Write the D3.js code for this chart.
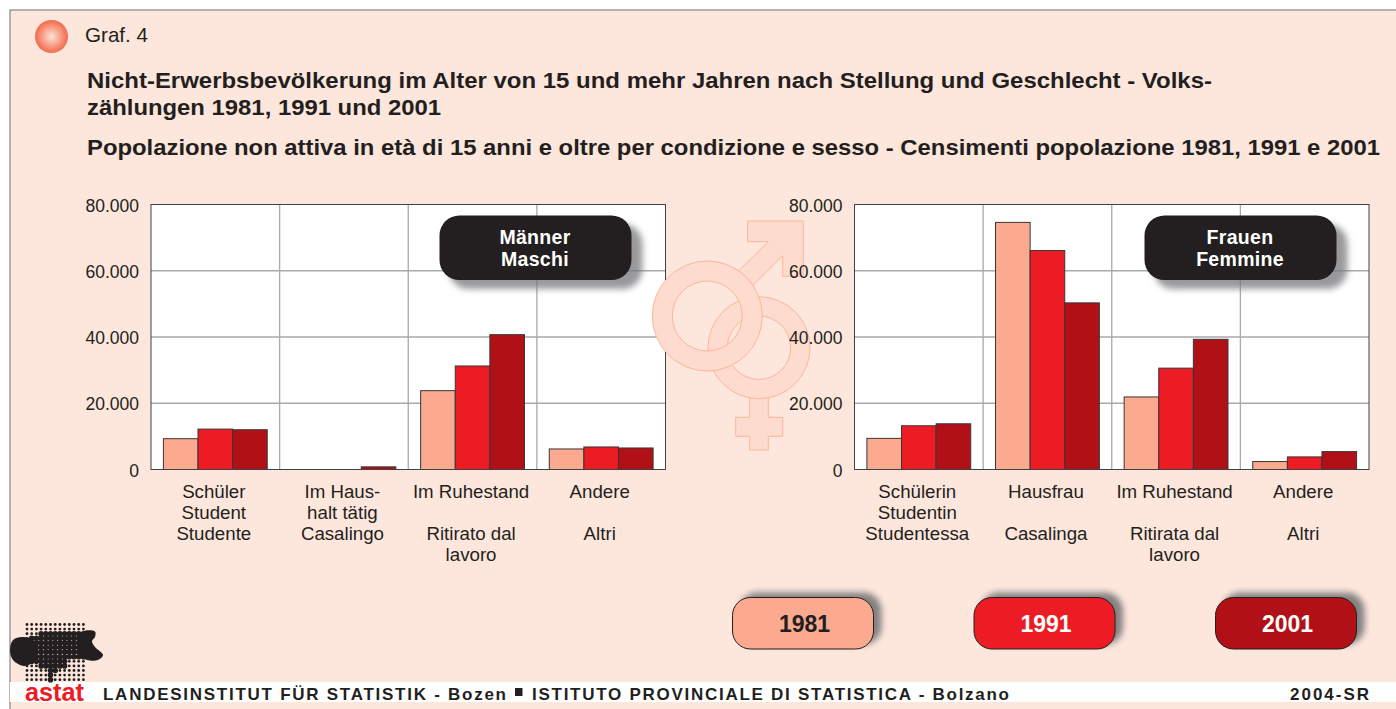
<!DOCTYPE html>
<html>
<head>
<meta charset="utf-8">
<script src="https://cdn.jsdelivr.net/npm/d3@7"></script>
<style>
  html, body { margin: 0; padding: 0; background: #fff; overflow: hidden; }
  svg { display: block; font-family: "Liberation Sans", Arial, sans-serif; }
</style>
</head>
<body>
<div id="chart"></div>
<script>
// values
const years = ["1981", "1991", "2001"]
const yearColors = ["#fbaa8f", "#ed1c24", "#b01016"]
const yearTextColors = ["#231f20", "#ffffff", "#ffffff"]
const yTicks = [0, 20000, 40000, 60000, 80000]

const menCategories = ["Schüler", "Haushalt", "Ruhestand", "Andere"]
const men1981 = [9300, 0, 23800, 6200]
const men1991 = [12200, 0, 31250, 6800]
const men2001 = [12000, 800, 40700, 6500]
const menLabels = [
    ["Schüler", "Student", "Studente"],
    ["Im Haus-", "halt tätig", "Casalingo"],
    ["Im Ruhestand", "", "Ritirato dal", "lavoro"],
    ["Andere", "", "Altri"]
]

const womenCategories = ["Schülerin", "Hausfrau", "Ruhestand", "Andere"]
const women1981 = [9400, 74600, 21900, 2400]
const women1991 = [13200, 66100, 30600, 3800]
const women2001 = [13800, 50300, 39300, 5400]
const womenLabels = [
    ["Schülerin", "Studentin", "Studentessa"],
    ["Hausfrau", "", "Casalinga"],
    ["Im Ruhestand", "", "Ritirata dal", "lavoro"],
    ["Andere", "", "Altri"]
]

const width = 1396
const height = 709
const ink = "#231f20"
const bg = "#fde6dc"
const symbolFill = "#fddccf"
const symbolStroke = "#fdb49b"

const svg = d3.select("#chart").append("svg")
    .attr("width", width)
    .attr("height", height)
    .attr("viewBox", [0, 0, width, height])

const defs = svg.append("defs")
const blur = defs.append("filter").attr("id", "soft")
    .attr("x", "-20%").attr("y", "-30%").attr("width", "140%").attr("height", "160%")
blur.append("feGaussianBlur").attr("stdDeviation", 3)
const ball = defs.append("radialGradient").attr("id", "ball")
ball.append("stop").attr("offset", "0%").attr("stop-color", "#fde3d8")
ball.append("stop").attr("offset", "100%").attr("stop-color", "#f4694a")

// page frame
svg.append("rect").attr("x", 10).attr("y", 10).attr("width", width).attr("height", height)
    .attr("fill", bg).attr("stroke", "#6d6e71").attr("stroke-width", 1)

svg.append("circle").attr("cx", 51.5).attr("cy", 36.5).attr("r", 16.5).attr("fill", "url(#ball)")
svg.append("text").attr("x", 85).attr("y", 42).attr("font-size", 20.6).attr("fill", ink).text("Graf. 4")

const titles = [
    ["Nicht-Erwerbsbevölkerung im Alter von 15 und mehr Jahren nach Stellung und Geschlecht - Volks-", 87.5],
    ["zählungen 1981, 1991 und 2001", 114.5],
    ["Popolazione non attiva in età di 15 anni e oltre per condizione e sesso - Censimenti popolazione 1981, 1991 e 2001", 154.5]
]
svg.append("g").selectAll("text").data(titles).join("text")
    .attr("x", 87)
    .attr("y", d => d[1])
    .attr("font-size", 22.5)
    .attr("font-weight", "bold")
    .attr("fill", ink)
    .attr("textLength", (d, i) => [1125, 354, 1293][i])
    .attr("lengthAdjust", "spacingAndGlyphs")
    .text(d => d[0])

function drawPanel(opt) {
    const yScale = d3.scaleLinear([0, 80000], [469.5, 204.5])
    const xScale = d3.scaleBand(opt.categories, [opt.left, opt.right])
    const x1 = d3.scaleBand(years, [12.4, xScale.bandwidth() - 12.4])
    const fmt = d3.formatLocale({ decimal: ",", thousands: ".", grouping: [3], currency: ["", ""] }).format(",d")

    const g = svg.append("g")
    g.append("rect")
        .attr("x", opt.left).attr("y", yScale(80000))
        .attr("width", opt.right - opt.left).attr("height", yScale(0) - yScale(80000))
        .attr("fill", "#fff")

    g.append("g").selectAll("line").data(yTicks.slice(1, -1)).join("line")
        .attr("x1", opt.left).attr("x2", opt.right)
        .attr("y1", d => yScale(d)).attr("y2", d => yScale(d))
        .attr("stroke", "#a7a9ac").attr("stroke-width", 1.3)
    g.append("g").selectAll("line").data(opt.categories.slice(1)).join("line")
        .attr("x1", d => xScale(d)).attr("x2", d => xScale(d))
        .attr("y1", yScale(80000)).attr("y2", yScale(0))
        .attr("stroke", "#a7a9ac").attr("stroke-width", 1.3)

    const series = years.map((y, i) => ({ year: y, color: yearColors[i], values: opt.series[i] }))
    g.append("g").selectAll("g").data(series).join("g")
        .attr("fill", d => d.color)
        .selectAll("rect")
        .data(d => d.values.map((v, i) => ({ year: d.year, cat: opt.categories[i], v })).filter(d => d.v > 0))
        .join("rect")
        .attr("x", d => xScale(d.cat) + x1(d.year))
        .attr("y", d => yScale(d.v))
        .attr("width", x1.bandwidth())
        .attr("height", d => yScale(0) - yScale(d.v))
        .attr("stroke", "#3a3536")
        .attr("stroke-width", 1)

    g.append("rect")
        .attr("x", opt.left).attr("y", yScale(80000))
        .attr("width", opt.right - opt.left).attr("height", yScale(0) - yScale(80000))
        .attr("fill", "none").attr("stroke", "#414042")

    // panel badge
    const bx = opt.badgeX
    g.append("rect").attr("x", bx + 9).attr("y", 224).attr("width", 194).attr("height", 65).attr("rx", 20)
        .attr("fill", "#77787b").attr("opacity", 0.75).attr("filter", "url(#soft)")
    g.append("rect").attr("x", bx).attr("y", 215.5).attr("width", 192).attr("height", 64.5).attr("rx", 20)
        .attr("fill", ink)
    g.append("g").selectAll("text").data(opt.badge).join("text")
        .attr("x", bx + 95.5)
        .attr("y", (d, i) => 243.5 + i * 22)
        .attr("text-anchor", "middle")
        .attr("font-size", 19.5)
        .attr("font-weight", "bold")
        .attr("letter-spacing", 0.3)
        .attr("fill", "#fff")
        .text(d => d)

    return () => {
        // axes go on last, the tick labels sit over the symbols
        const yAxis = d3.axisLeft(yScale).tickValues(yTicks).tickFormat(fmt).tickSize(0).tickPadding(12)
        const ax = svg.append("g").attr("transform", `translate(${opt.left},1)`).call(yAxis)
        ax.select(".domain").remove()
        ax.selectAll("text").attr("font-size", 17.5).attr("fill", ink).attr("font-family", "Liberation Sans")

        const xAxis = d3.axisBottom(xScale).tickSize(0).tickFormat("")
        const bx2 = svg.append("g").attr("transform", `translate(0,${yScale(0)})`).call(xAxis)
        bx2.select(".domain").remove()
        bx2.selectAll(".tick text").remove()
        bx2.selectAll(".tick").append("text")
            .attr("text-anchor", "middle")
            .attr("fill", ink)
            .attr("font-size", 18.7)
            .attr("font-family", "Liberation Sans")
            .selectAll("tspan")
            .data((d, i) => opt.labels[i])
            .join("tspan")
            .attr("x", -1.5)
            .attr("y", (d, i) => 28 + i * 21.3)
            .text(d => d)
    }
}

const menAxes = drawPanel({
    left: 151, right: 665.5,
    categories: menCategories, labels: menLabels,
    series: [men1981, men1991, men2001],
    badge: ["Männer", "Maschi"], badgeX: 439.5
})

// gender symbols, female one under the male one
const ringPath = (cx, cy, r) => {
    const p = d3.path()
    p.arc(cx, cy, r, 0, Math.PI * 2)
    p.closePath()
    return p.toString()
}
const line = d3.line()
const femaleStem = [[749.7, 396], [768.3, 396], [768.3, 417.3], [782.7, 417.3], [782.7, 436.3], [768.3, 436.3], [768.3, 450], [749.7, 450], [749.7, 436.3], [735.7, 436.3], [735.7, 417.3], [749.7, 417.3]]
const maleArrow = [[738.7, 270.7], [768.3, 241.7], [747.7, 241.7], [747.7, 221], [803.3, 221], [803.3, 276.3], [782.7, 276.3], [782.7, 255.7], [753.3, 285]]
const symbols = svg.append("g").attr("fill", symbolFill).attr("stroke", symbolStroke).attr("stroke-width", 1)
symbols.append("path").attr("d", line(femaleStem) + "Z")
symbols.append("path").attr("d", ringPath(759, 347.7, 51) + ringPath(759, 347.7, 31.7)).attr("fill-rule", "evenodd")
symbols.append("path").attr("d", line(maleArrow) + "Z")
symbols.append("path").attr("d", ringPath(707.3, 316, 55) + ringPath(707.3, 316, 35)).attr("fill-rule", "evenodd")

const womenAxes = drawPanel({
    left: 854.5, right: 1369,
    categories: womenCategories, labels: womenLabels,
    series: [women1981, women1991, women2001],
    badge: ["Frauen", "Femmine"], badgeX: 1144.5
})
menAxes()
womenAxes()

// legend pills
const legendX = d3.scalePoint(years, [732.5, 1215.5])
const legend = svg.append("g").selectAll("g").data(years).join("g")
    .attr("transform", d => `translate(${legendX(d)},597.5)`)
legend.append("rect").attr("x", 7).attr("y", -5).attr("width", 142).attr("height", 52).attr("rx", 18)
    .attr("fill", "#6d6e71").attr("opacity", 0.85).attr("filter", "url(#soft)")
legend.append("rect").attr("width", 141).attr("height", 51.5).attr("rx", 18)
    .attr("fill", (d, i) => yearColors[i]).attr("stroke", ink)
legend.append("text").attr("x", 72).attr("y", 34.5)
    .attr("text-anchor", "middle").attr("font-size", 23).attr("font-weight", "bold")
    .attr("fill", (d, i) => yearTextColors[i]).text(d => d)

// footer strip
svg.append("rect").attr("x", 10).attr("y", 682).attr("width", width).attr("height", 20).attr("fill", "#fff")
const footer = [
    ["LANDESINSTITUT FÜR STATISTIK - Bozen", 103, 403],
    ["ISTITUTO PROVINCIALE DI STATISTICA - Bolzano", 532, 477],
    ["2004-SR", 1290, 79]
]
svg.append("g").selectAll("text").data(footer).join("text")
    .attr("x", d => d[1]).attr("y", 700)
    .attr("font-size", 17).attr("font-weight", "bold").attr("fill", ink)
    .attr("textLength", d => d[2]).attr("lengthAdjust", "spacing")
    .text(d => d[0])
svg.append("rect").attr("x", 515).attr("y", 688).attr("width", 7.5).attr("height", 8).attr("fill", ink)

// astat logo: dot raster, bigger dots inside the province, solid lobes at the sides
const provinceOutline = [[26, 640], [40, 633], [53, 631], [92, 631], [92, 660], [70, 660], [65, 667], [55, 672], [53, 682], [47, 682], [46, 670], [38, 665], [23, 665], [23, 640]]
const leftLobe = [[10, 650], [13, 640], [22, 637], [33, 640], [36, 652], [33, 662], [24, 666], [13, 660]]
const rightLobe = [[82, 632], [95, 631.5], [95, 637], [92, 641], [95, 647], [103, 655], [98, 660], [87, 660], [80, 655]]
const logo = svg.append("g").attr("fill", ink)
logo.append("g").selectAll("circle")
    .data(d3.cross(d3.range(13), d3.range(13)))
    .join("circle")
    .attr("cx", d => 27 + d[0] * 4.7)
    .attr("cy", d => 624.5 + d[1] * 4.6)
    .attr("r", d => d3.polygonContains(provinceOutline, [27 + d[0] * 4.7, 624.5 + d[1] * 4.6]) ? 2.8 : 1.4)
logo.selectAll("path").data([leftLobe, rightLobe]).join("path")
    .attr("d", d3.line().curve(d3.curveCatmullRomClosed))
svg.append("text").attr("x", 25).attr("y", 700.5)
    .attr("font-size", 26).attr("font-weight", "bold").attr("fill", "#ed1c24")
    .attr("textLength", 59).attr("lengthAdjust", "spacingAndGlyphs")
    .text("astat")
</script>
</body>
</html>
